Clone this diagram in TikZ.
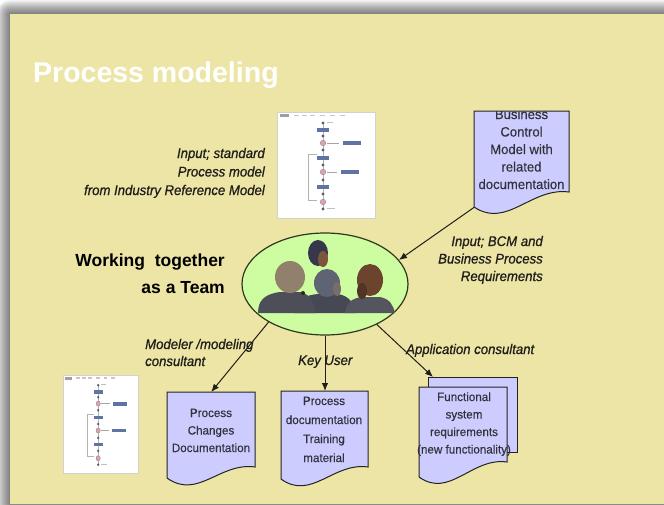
\documentclass[tikz,border=0pt]{standalone}
\usepackage{fontspec}
\setmainfont{Liberation Sans}
\newfontfamily\labelfont{Liberation Sans}[FakeStretch=0.94,FakeBold=0.8]
\newfontfamily\docfont{Liberation Sans}[FakeStretch=0.97,FakeBold=0.3]
\usetikzlibrary{shapes.geometric,arrows.meta,calc}

\definecolor{slide}{RGB}{237,229,166}
\definecolor{docfill}{RGB}{204,204,255}
\definecolor{docline}{RGB}{35,35,35}
\definecolor{teamfill}{RGB}{206,252,160}
\definecolor{teamline}{RGB}{45,55,30}
\definecolor{ink}{RGB}{32,30,26}
\definecolor{doctext}{RGB}{50,50,60}
\definecolor{suit}{RGB}{78,78,88}
\definecolor{evt}{RGB}{85,95,115}
\definecolor{fnbox}{RGB}{95,115,165}
\definecolor{rule}{RGB}{215,165,175}
\definecolor{hairtop}{RGB}{55,55,75}
\definecolor{facetop}{RGB}{125,85,60}
\definecolor{suitmid}{RGB}{70,72,85}
\definecolor{hairmid}{RGB}{95,100,115}
\definecolor{facemid}{RGB}{120,110,105}
\definecolor{hairleft}{RGB}{145,128,108}
\definecolor{suitright}{RGB}{85,85,95}
\definecolor{hairright}{RGB}{108,68,45}
\definecolor{faceright}{RGB}{80,52,38}

\tikzset{
  arr/.style={draw=ink, line width=1pt, -{Latex[length=8pt,width=6.5pt]}},
  lbl/.style={font=\labelfont\itshape\fontsize{14}{17.5}\selectfont, text=ink, inner sep=0pt},
  doctxt/.style={font=\docfont\fontsize{12}{17.5}\selectfont, text=doctext, align=center, inner sep=0pt},
  docpage/.style={draw=docline, fill=docfill, line width=1pt},
  thumb/.pic={
    \fill[white] (0,0) rectangle (98,106);
    \draw[gray!35, line width=0.4pt] (0,0) rectangle (98,106);
    % toolbar strip
    \fill[gray!75] (3,2) rectangle (12,5);
    \foreach \x in {17,25,33,43,53,63} \fill[gray!45] (\x,2.6) rectangle ++(5,1.8);
    % control flow
    \draw[gray!60, line width=0.3pt] (46,11) -- (46,97);
    \draw[gray!60, line width=0.4pt] (40,42) -- (31,42) -- (31,88) -- (40,88);
    \foreach \y in {11,24,38,53,68,82,97} \fill[evt] (46,\y) circle (1.6);
    \foreach \y in {18,46,75} \fill[fnbox] (40,\y-2) rectangle (52,\y+2);
    \foreach \y in {31,60,90} \filldraw[fill=rule, draw=rule!70!black, line width=0.3pt] (46,\y) circle (2.8);
    \draw[gray!70, line width=0.4pt] (50,31) -- (62,31);
    \fill[fnbox] (66,29) rectangle (84,33);
    \draw[gray!70, line width=0.4pt] (50,60) -- (60,60);
    \fill[fnbox] (64,58) rectangle (82,62);
    \fill[gray!50] (50,9.8) rectangle (56,11);
    \fill[gray!50] (50,96) rectangle (58,97.2);
  }
}

% document symbol: name, left, top, width, left height, right height
\newcommand\docpage[6]{%
  \filldraw[docpage] (#2,#3) -- ++(#4,0) -- ++(0,#6)
    .. controls ({#2+0.6*#4},{#3+#6-5}) and ({#2+0.35*#4},{#3+#5+22}) .. (#2,{#3+#5}) -- cycle;
  \node[inner sep=0pt, minimum width=#4pt, minimum height=#5pt, anchor=north west] (#1) at (#2,#3) {};}

\begin{document}
\begin{tikzpicture}[x=1pt,y=-1pt]
\useasboundingbox (0,0) rectangle (664,504);
\fill[white] (0,0) rectangle (664,504);
% soft shadow round the slide
\foreach \i in {1,...,14}
  \fill[black, opacity=0.045, rounded corners=\i pt] ({10-\i},{14-\i}) rectangle (680,520);
\fill[slide] (10,14) rectangle (664,504);

% title
\node[anchor=base west, inner sep=0pt, text=white,
      font=\bfseries\fontsize{28.5}{30}\selectfont] (title) at (33,82) {Process modeling};

% process model thumbnails
\pic at (277,112) {thumb};
\pic[xscale=0.765, yscale=0.925] at (63,375) {thumb};

% multi-line labels are placed by the baseline of their last line
\node[lbl, align=right, anchor=base east, font=\labelfont\itshape\fontsize{14}{18.5}\selectfont]
  (stdin) at (265,195)
  {Input; standard\\Process model\\from Industry Reference Model};

% business control model
\docpage{bcm}{474}{111}{95}{96}{81}
\begin{scope}
  \clip (bcm.north west) rectangle (bcm.south east);
  \node[doctxt, font=\docfont\fontsize{13.5}{17.5}\selectfont, anchor=base] (bcmtxt) at (521.5,189)
    {Business\\Control\\Model with\\related\\documentation};
\end{scope}

% the team
\node[draw=teamline, fill=teamfill, line width=1.2pt, ellipse, inner sep=0pt,
      minimum width=166pt, minimum height=102pt] (team) at (325,284) {};
% people
\fill[hairtop] (318,253) ellipse (10 and 13);
\fill[facetop] (323,259) ellipse (5 and 8);
\fill[suitmid] (294,313) .. controls (296,300) and (305,295) .. (318,294) -- (338,294)
   .. controls (350,296) and (354,304) .. (355,313) -- cycle;
\fill[hairmid] (327,283) ellipse (13 and 14);
\fill[facemid] (337,289) ellipse (4 and 7);
\fill[suit] (258,313) .. controls (258,300) and (265,294) .. (280,292) -- (300,292)
   .. controls (310,294) and (314,302) .. (316,313) -- cycle;
\fill[hairleft] (290,277) ellipse (15 and 16);
\fill[black!85] (303,293) circle (2);
\fill[suitright] (345,313) .. controls (346,303) and (352,298) .. (362,297) -- (380,297)
   .. controls (390,299) and (393,305) .. (395,313) -- cycle;
\fill[hairright] (370,280) ellipse (13 and 16);
\fill[faceright] (362,291) ellipse (5 and 8);

\node[anchor=base east, align=right, inner sep=0pt, text=black,
      font=\bfseries\fontsize{17.5}{27}\selectfont] (worktxt) at (225,293)
  {Working\ \ together\\as a Team};

\node[lbl, align=right, anchor=base east] (bcmin) at (543,281)
  {Input; BCM and\\Business Process\\Requirements};

% output documents
\docpage{doc1}{167}{392}{88}{86}{75}
\node[doctxt, anchor=base] (doc1txt) at (211,452) {Process\\Changes\\Documentation};

\docpage{doc2}{281}{391}{87}{88}{76}
\node[doctxt, anchor=base, font=\docfont\fontsize{12}{19}\selectfont] (doc2txt) at (324,462)
  {Process\\documentation\\Training\\material};

\node[docpage, inner sep=0pt, minimum width=89pt, minimum height=75pt, anchor=north west]
  (doc3back) at (428,377) {};
\docpage{doc3}{419}{387}{88}{90}{75}
\node[doctxt, anchor=base] (doc3txt) at (464,453.5)
  {Functional\\system\\requirements\\(new functionality)};

% role labels
\node[lbl, align=left, anchor=base west, font=\labelfont\itshape\fontsize{14}{17}\selectfont]
  (modlbl) at (145,366) {Modeler /modeling\\consultant};
\node[lbl, anchor=base west] (keylbl) at (298,365) {Key User};
\node[lbl, anchor=base west] (applbl) at (406,354) {Application consultant};

% connectors
\draw[arr] (bcm.south west) -- (team.18);
\draw[arr] (team.214) -- (doc1.north);
\draw[arr] (team.south) -- (team.south |- doc2.north);
\draw[arr] (team.322) -- ([xshift=5pt]doc3back.north west);
\end{tikzpicture}
\end{document}
